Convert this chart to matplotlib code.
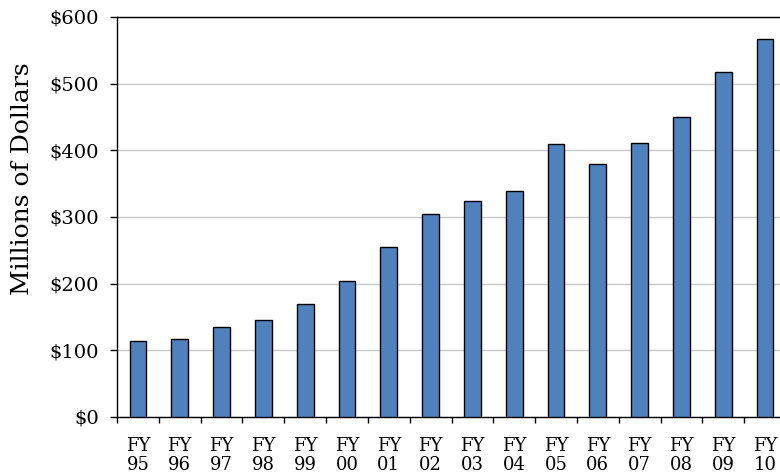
import matplotlib
matplotlib.use("Agg")
import matplotlib.pyplot as plt
import numpy as np

years = ["95", "96", "97", "98", "99", "00", "01", "02", "03", "04", "05", "06", "07", "08", "09", "10"]
values = [114, 117, 135, 146, 169, 204, 255, 305, 324, 339, 410, 380, 411, 450, 517, 567]
yticks = [0, 100, 200, 300, 400, 500, 600]

plt.rcParams["font.family"] = ["DejaVu Serif"]

fig = plt.figure(figsize=(7.8, 4.76), dpi=100)
# axes runs slightly past the right edge, like the cropped original
ax = fig.add_axes([117 / 780, 1 - 417 / 476, 669 / 780, 400 / 476])

x = np.arange(len(years))
ax.bar(x, values, width=0.4, color="#4F81BD", edgecolor="black", linewidth=1.0, zorder=3)

ax.set_xlim(-0.5, len(years) - 0.5)
ax.set_ylim(0, 600)
ax.set_yticks(yticks)
ax.set_yticklabels([f"${v}" for v in yticks], fontsize=14)
ax.yaxis.grid(True, color="#C8C8C8", linewidth=1.0, zorder=0)

ax.set_xticks(np.arange(-0.5, len(years)), labels=[])
ax.set_xticks(x, labels=[f"FY\n{y}" for y in years], minor=True)
ax.tick_params(axis="x", which="major", length=4.5, width=1, direction="out")
ax.tick_params(axis="x", which="minor", length=0, pad=14.5, labelsize=13)
for lbl in ax.get_xticklabels(minor=True):
    lbl.set_linespacing(1.05)
ax.tick_params(axis="y", length=5, width=1, direction="out", pad=8)

for side in ["left", "bottom", "top"]:
    ax.spines[side].set_color("black")
    ax.spines[side].set_linewidth(1.0)
ax.spines["right"].set_visible(False)

ax.set_ylabel("Millions of Dollars", fontsize=18)
ax.yaxis.set_label_coords(-0.124, 0.595)

fig.savefig("out.png", dpi=100)
